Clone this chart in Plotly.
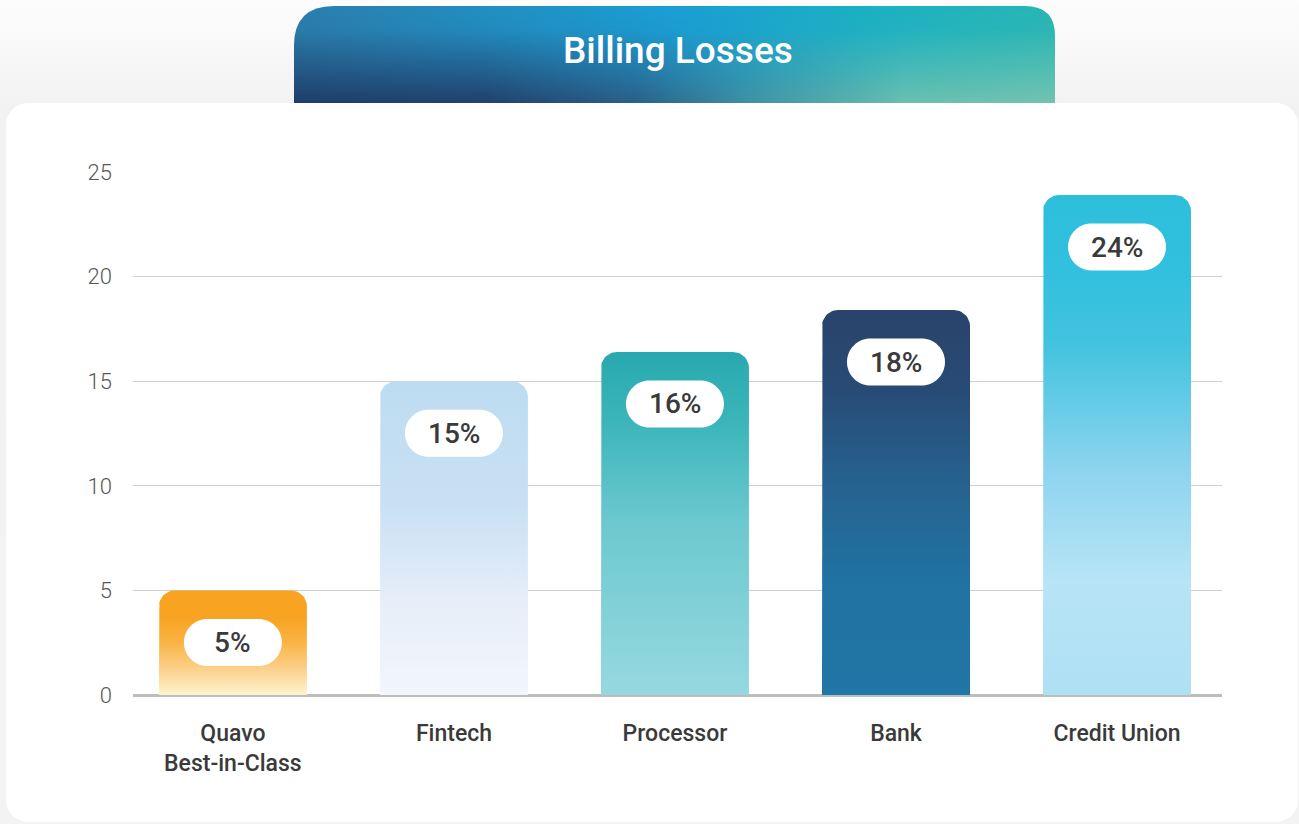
import base64
import numpy as np
import plotly.graph_objects as go

# ---------------- data ----------------
categories = ["Quavo<br>Best-in-Class", "Fintech", "Processor", "Bank", "Credit Union"]
values = [5, 15, 16.4, 18.4, 23.9]
value_labels = ["5%", "15%", "16%", "18%", "24%"]
y_ticks = [0, 5, 10, 15, 20, 25]
title_text = "Billing Losses"

# bottom -> top colour stops per bar
colorscales = [
    [[0, "#FEF4CC"], [0.25, "#FBD08A"], [0.5, "#F9B445"], [0.72, "#F8A423"], [1, "#F8A220"]],
    [[0, "#F3F6FC"], [0.3, "#E6EEF9"], [0.6, "#C9E0F4"], [1, "#BDDCF1"]],
    [[0, "#97D8E0"], [0.5, "#6CC9CF"], [0.8, "#3BB5BA"], [1, "#28A9AF"]],
    [[0, "#2076A6"], [0.3, "#2072A2"], [0.55, "#26628F"], [0.8, "#284A75"], [1, "#29436B"]],
    [[0, "#AEE0F3"], [0.23, "#B7E4F6"], [0.45, "#8DD4EE"], [0.7, "#42C3DF"], [0.85, "#31C0DE"], [1, "#2CBFDC"]],
]

# ---------------- geometry ----------------
W, H = 1299, 824
ML, MR, MT, MB = 133, 77, 172, 129
PW, PH = W - ML - MR, H - MT - MB
XR = [-0.452, 4.475]
YR = [0, 25]
px_x = PW / (XR[1] - XR[0])
px_y = PH / (YR[1] - YR[0])
bar_w = 148 / px_x
rad_x = 16 / px_x
rad_y = 16 / px_y


def bar_outline(i, v):
    xl, xr = i - bar_w / 2, i + bar_w / 2
    t = np.linspace(0, np.pi / 2, 14)
    lx = (xl + rad_x) - rad_x * np.cos(t)
    ly = (v - rad_y) + rad_y * np.sin(t)
    t2 = t[::-1]
    rxs = (xr - rad_x) + rad_x * np.cos(t2)
    rys = (v - rad_y) + rad_y * np.sin(t2)
    xs = [xl] + list(lx) + list(rxs) + [xr, xl]
    ys = [0] + list(ly) + list(rys) + [0, 0]
    return xs, ys


fig = go.Figure()
for i, (cat, v, cs) in enumerate(zip(categories, values, colorscales)):
    xs, ys = bar_outline(i, v)
    fig.add_trace(go.Scatter(
        x=xs, y=ys, mode="lines", fill="toself",
        line=dict(width=0, color="rgba(0,0,0,0)"),
        fillgradient=dict(type="vertical", colorscale=cs, start=0, stop=v),
        hoverinfo="skip", showlegend=False,
    ))

# pill labels
hw, hh = 49, 23.5
r = hh
k = 0.5523 * r
oy = -52
pill = (
    f"M{-hw + r},{oy + hh} L{hw - r},{oy + hh} "
    f"C{hw - r + k},{oy + hh} {hw},{oy + k} {hw},{oy} "
    f"C{hw},{oy - k} {hw - r + k},{oy - hh} {hw - r},{oy - hh} "
    f"L{-hw + r},{oy - hh} "
    f"C{-hw + r - k},{oy - hh} {-hw},{oy - k} {-hw},{oy} "
    f"C{-hw},{oy + k} {-hw + r - k},{oy + hh} {-hw + r},{oy + hh} Z"
)
shapes = []
annotations = []
for i, (v, lab) in enumerate(zip(values, value_labels)):
    shapes.append(dict(
        type="path", xref="x", yref="y", xsizemode="pixel", ysizemode="pixel",
        xanchor=i, yanchor=v, path=pill, fillcolor="white", line=dict(width=0),
        layer="above",
    ))
    annotations.append(dict(
        x=i, y=v, xref="x", yref="y", yshift=oy, text=lab, showarrow=False,
        font=dict(family="Roboto", size=28, color="#3A3A3A", weight=500),
        xanchor="center", yanchor="middle",
    ))

annotations.append(dict(
    x=(678 - ML) / PW, y=1 + (MT - 50) / PH, xref="paper", yref="paper",
    text=title_text, showarrow=False, xanchor="center", yanchor="middle",
    font=dict(family="Roboto", size=37, color="white", weight=500),
))

# background artwork (page, card, title tab)
svg = """<svg xmlns="http://www.w3.org/2000/svg" width="1299" height="824" viewBox="0 0 1299 824" preserveAspectRatio="none">
<defs>
<linearGradient id="bg" x1="0" y1="0" x2="0" y2="1">
<stop offset="0" stop-color="#FDFDFD"/><stop offset="0.13" stop-color="#F2F2F2"/><stop offset="1" stop-color="#F3F3F3"/>
</linearGradient>
<linearGradient id="tt" x1="0" y1="0" x2="1" y2="0">
<stop offset="0" stop-color="#2B7FAE"/><stop offset="0.5" stop-color="#1A9FD6"/><stop offset="0.75" stop-color="#1BB0C4"/><stop offset="1" stop-color="#28B6B4"/>
</linearGradient>
<linearGradient id="tb" x1="0" y1="0" x2="1" y2="0">
<stop offset="0" stop-color="#1F3D6A"/><stop offset="0.25" stop-color="#22406C"/><stop offset="0.45" stop-color="#2A6088"/><stop offset="0.6" stop-color="#3E92A4"/><stop offset="0.8" stop-color="#68BFAF"/><stop offset="1" stop-color="#72C3B0"/>
</linearGradient>
<linearGradient id="mv" x1="0" y1="0" x2="0" y2="1">
<stop offset="0" stop-color="#000"/><stop offset="0.25" stop-color="#111"/><stop offset="1" stop-color="#fff"/>
</linearGradient>
<mask id="mk" maskUnits="userSpaceOnUse" x="0" y="0" width="1299" height="824">
<rect x="294" y="6" width="761" height="97" fill="url(#mv)"/>
</mask>
</defs>
<rect x="0" y="0" width="1299" height="824" fill="url(#bg)"/>
<path d="M294,103 L294,46 Q294,6 334,6 L1025,6 Q1055,6 1055,36 L1055,103 Z" fill="url(#tt)"/>
<path d="M294,103 L294,46 Q294,6 334,6 L1025,6 Q1055,6 1055,36 L1055,103 Z" fill="url(#tb)" mask="url(#mk)"/>
<rect x="6" y="103" width="1292" height="719" rx="22" ry="22" fill="#FFFFFF"/>
</svg>"""
uri = "data:image/svg+xml;base64," + base64.b64encode(svg.encode()).decode()

fig.update_layout(
    width=W, height=H,
    margin=dict(l=ML, r=MR, t=MT, b=MB, pad=0),
    paper_bgcolor="#F3F3F3",
    plot_bgcolor="rgba(0,0,0,0)",
    showlegend=False,
    shapes=shapes,
    annotations=annotations,
    images=[dict(
        source=uri, xref="paper", yref="paper",
        x=-ML / PW, y=1 + MT / PH, sizex=W / PW, sizey=H / PH,
        xanchor="left", yanchor="top", sizing="stretch", layer="below",
    )],
    xaxis=dict(
        range=XR, tickmode="array", tickvals=list(range(len(categories))),
        ticktext=categories, showgrid=False, zeroline=False, showline=False,
        ticks="", ticklabelstandoff=22,
        tickfont=dict(family="Roboto", size=23, color="#3A3A3A", weight=500),
        fixedrange=True,
    ),
    yaxis=dict(
        range=YR, tickmode="array", tickvals=y_ticks, showgrid=True,
        gridcolor="#CFCFCF", gridwidth=1, zeroline=True, zerolinecolor="#BDBDBD",
        zerolinewidth=2.5, showline=False, ticks="", ticklabelstandoff=20,
        tickfont=dict(family="Roboto", size=22, color="#585858", weight=300),
        fixedrange=True,
    ),
)

fig.write_html(
    "out.html",
    config={"displayModeBar": False},
    post_script="document.body.style.margin='0px';document.body.style.overflow='hidden';",
)
